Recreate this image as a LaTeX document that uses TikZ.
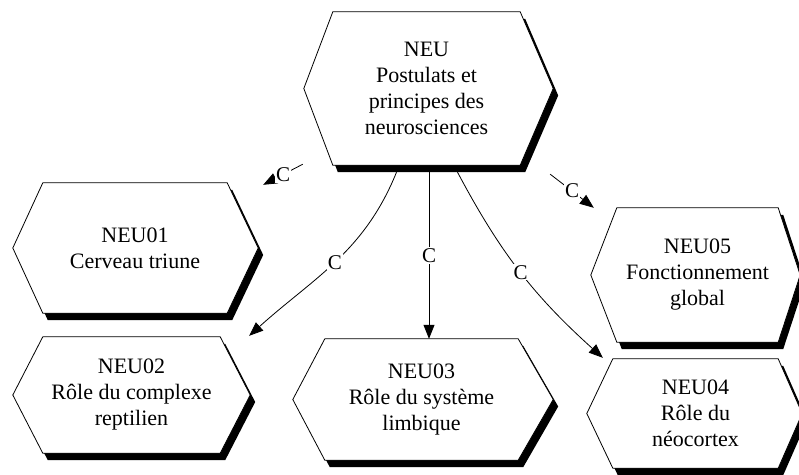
\documentclass[tikz,border=0pt]{standalone}
\usepackage{fontspec}
\setmainfont{Liberation Serif}
\usetikzlibrary{arrows.meta}
\pgfdeclarelayer{background}
\pgfsetlayers{background,main}

\tikzset{
  box/.style={shape=rectangle, inner sep=0pt, align=center,
    font=\fontsize{22}{26}\selectfont},
  frame/.style={draw=black, line width=0.8pt, fill=white, line join=miter},
  shadowfill/.style={fill=black},
  conn/.style={draw=black, line width=0.8pt, -{Triangle[length=14pt,width=11pt]}},
  lbl/.style={fill=white, inner sep=1pt, font=\fontsize{21}{23}\selectfont},
}

% hexagon with a drop shadow around a rectangular node:
% #1 node name, #2 left point depth, #3 right point depth
\newcommand\hexframe[3]{%
  \begin{pgfonlayer}{background}
    \fill[shadowfill]
      ([shift={(5,7)}]#1.north west) -- ([shift={(5,7)}]#1.north east)
      -- ([shift={(5+#3,7)}]#1.east) -- ([shift={(5,7)}]#1.south east)
      -- ([shift={(5,7)}]#1.south west) -- ([shift={(5-#2,7)}]#1.west) -- cycle;
    \path[frame]
      (#1.north west) -- (#1.north east) -- ([shift={(#3,0)}]#1.east)
      -- (#1.south east) -- (#1.south west) -- ([shift={(-#2,0)}]#1.west) -- cycle;
  \end{pgfonlayer}}

\begin{document}
\begin{tikzpicture}[x=1pt, y=-1pt]
  \useasboundingbox (0,0) rectangle (799,474);

  % boxes
  \node[box, minimum width=187, minimum height=153] (NEU) at (426.5,88.5)
    {NEU\\Postulats et\\principes des\\neurosciences};
  \node[box, minimum width=184, minimum height=130] (N01) at (135,248)
    {NEU01\\Cerveau triune};
  \node[box, minimum width=177, minimum height=116] (N02) at (131.5,395)
    {NEU02\\R\^ole du complexe\\reptilien};
  \node[box, minimum width=193, minimum height=121] (N03) at (421.5,399.5)
    {NEU03\\R\^ole du syst\`eme\\limbique};
  \node[box, minimum width=161, minimum height=134] (N05) at (697.5,275)
    {NEU05\\Fonctionnement\\global};
  \node[box, minimum width=165, minimum height=109] (N04) at (695.5,413.5)
    {NEU04\\R\^ole du\\n\'eocortex};

  \hexframe{NEU}{29}{33}
  \hexframe{N01}{30}{31}
  \hexframe{N02}{30}{30}
  \hexframe{N03}{32}{35}
  \hexframe{N05}{26}{22}
  \hexframe{N04}{26}{24}

  % connectors
  \draw[conn] ([shift={(-30,-1)}]NEU.south west) -- node[lbl] {C}
    ([shift={(36,2)}]N01.north east);
  \draw[conn] ([shift={(30,9)}]NEU.south east) -- node[lbl] {C}
    ([shift={(-23,0)}]N05.north west);
  \draw[conn] ([shift={(-30,7)}]NEU.south) to[out=-112, in=42]
    node[lbl, pos=0.5] {C} ([shift={(29,-1)}]N02.north east);
  \draw[conn] ([shift={(2.5,7)}]NEU.south) -- node[lbl] {C}
    ([shift={(7.5,0)}]N03.north);
  \draw[conn] ([shift={(31,7)}]NEU.south) to[out=-62, in=138]
    node[lbl, pos=0.5] {C} ([shift={(-10,-1)}]N04.north west);
\end{tikzpicture}
\end{document}
